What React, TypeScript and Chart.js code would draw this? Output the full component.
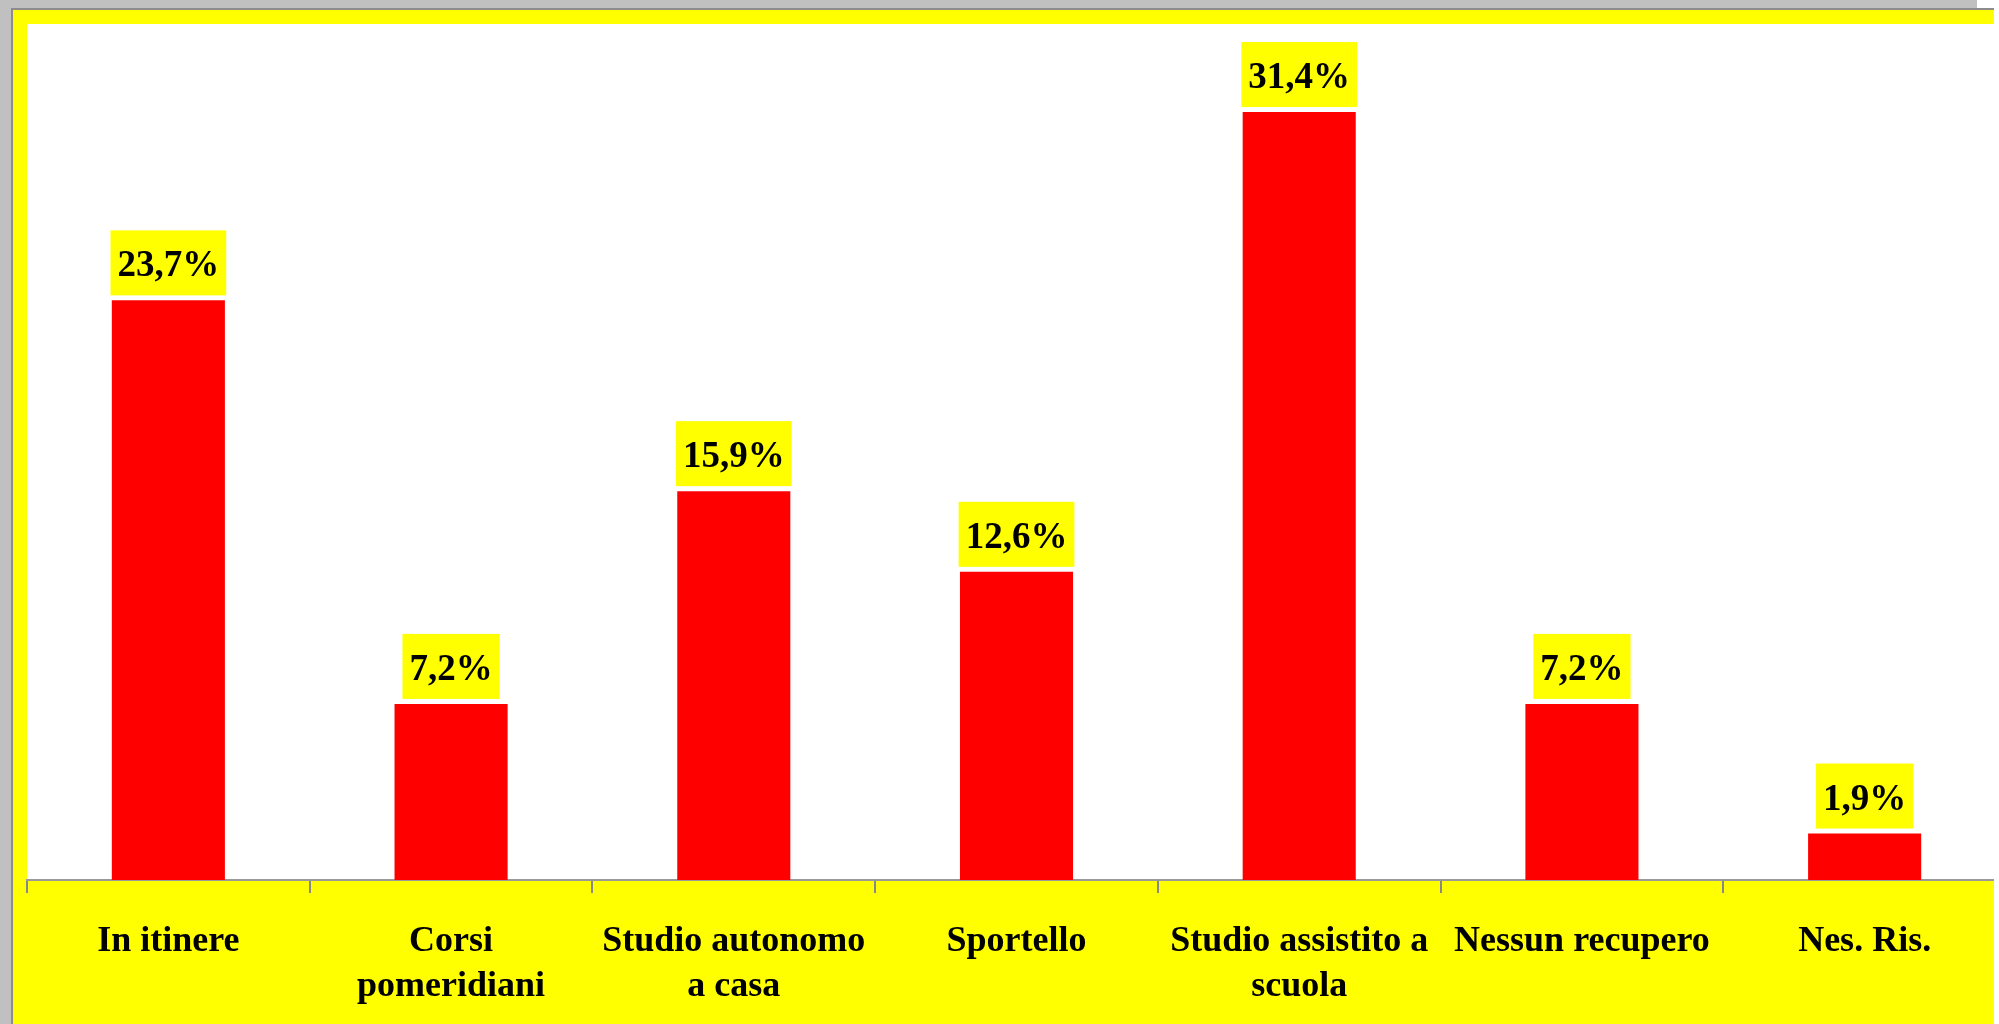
import React, { useEffect, useRef } from "react";
import { Chart, registerables } from "chart.js";

Chart.register(...registerables);

const categories: (string | string[])[] = [
  "In itinere",
  ["Corsi", "pomeridiani"],
  ["Studio autonomo", "a casa"],
  "Sportello",
  ["Studio assistito a", "scuola"],
  "Nessun recupero",
  "Nes. Ris.",
];
const values: number[] = [23.7, 7.2, 15.9, 12.6, 31.4, 7.2, 1.9];
const valueLabels: string[] = ["23,7%", "7,2%", "15,9%", "12,6%", "31,4%", "7,2%", "1,9%"];

const FONT = "'Liberation Serif', 'Times New Roman', serif";

const labelBoxPlugin = {
  id: "labelBoxes",
  afterDatasetsDraw(chart: any) {
    const ctx = chart.ctx;
    const meta = chart.getDatasetMeta(0);
    ctx.save();
    ctx.font = `bold 37px ${FONT}`;
    ctx.textAlign = "center";
    ctx.textBaseline = "middle";
    meta.data.forEach((bar: any, i: number) => {
      const text = valueLabels[i];
      const w = ctx.measureText(text).width + 14;
      const h = 65;
      const bottom = bar.y - 5;
      const top = bottom - h;
      ctx.fillStyle = "#ffff00";
      ctx.fillRect(bar.x - w / 2, top, w, h);
      ctx.fillStyle = "#000000";
      ctx.fillText(text, bar.x, top + h / 2 + 4);
    });
    ctx.restore();
  },
};

export default function App() {
  const ref = useRef<HTMLCanvasElement | null>(null);
  useEffect(() => {
    if (!ref.current) return;
    const chart = new Chart(ref.current, {
      type: "bar",
      data: {
        labels: categories,
        datasets: [
          {
            data: values,
            backgroundColor: "#ff0000",
            borderWidth: 0,
            barPercentage: 0.4,
            categoryPercentage: 1,
          },
        ],
      },
      options: {
        responsive: false,
        animation: false,
        devicePixelRatio: 1,
        layout: { padding: { left: 27, top: 24, right: 4, bottom: 0 } },
        plugins: { legend: { display: false }, tooltip: { enabled: false } },
        scales: {
          x: {
            offset: true,
            grid: {
              offset: true,
              drawOnChartArea: false,
              drawTicks: true,
              tickLength: 13,
              color: "#888888",
              lineWidth: 2,
            },
            border: { display: true, color: "#999999", width: 2 },
            ticks: {
              color: "#000000",
              font: { family: FONT, size: 36, weight: "bold", lineHeight: 1.25 },
              padding: 26,
              autoSkip: false,
              maxRotation: 0,
              minRotation: 0,
            },
            afterFit: (scale: any) => {
              scale.height = 144;
            },
          },
          y: {
            display: false,
            min: 0,
            max: 35,
          },
        },
      },
      plugins: [labelBoxPlugin],
    });
    return () => chart.destroy();
  }, []);

  return (
    <div style={{ position: "fixed", left: 0, top: 0, width: 1999, height: 1024, background: "#ffffff", overflow: "hidden" }}>
      <div style={{ position: "absolute", left: 0, top: 0, width: 1977, height: 8, background: "#c0c0c0" }} />
      <div style={{ position: "absolute", left: 0, top: 0, width: 11, height: 1024, background: "#c0c0c0" }} />
      <div style={{ position: "absolute", left: 11, top: 8, width: 1983, height: 1016, background: "#8c8c8c" }} />
      <div style={{ position: "absolute", left: 13, top: 10, width: 1981, height: 1014, background: "#ffff00" }} />
      <div style={{ position: "absolute", left: 27, top: 24, width: 1967, height: 856, background: "#ffffff" }} />
      <div style={{ position: "absolute", left: 0, top: 0, width: 1994, height: 1024, overflow: "hidden" }}>
        <canvas ref={ref} width={2010} height={1024} style={{ position: "absolute", left: 0, top: 0, width: 2010, height: 1024 }} />
      </div>
    </div>
  );
}
